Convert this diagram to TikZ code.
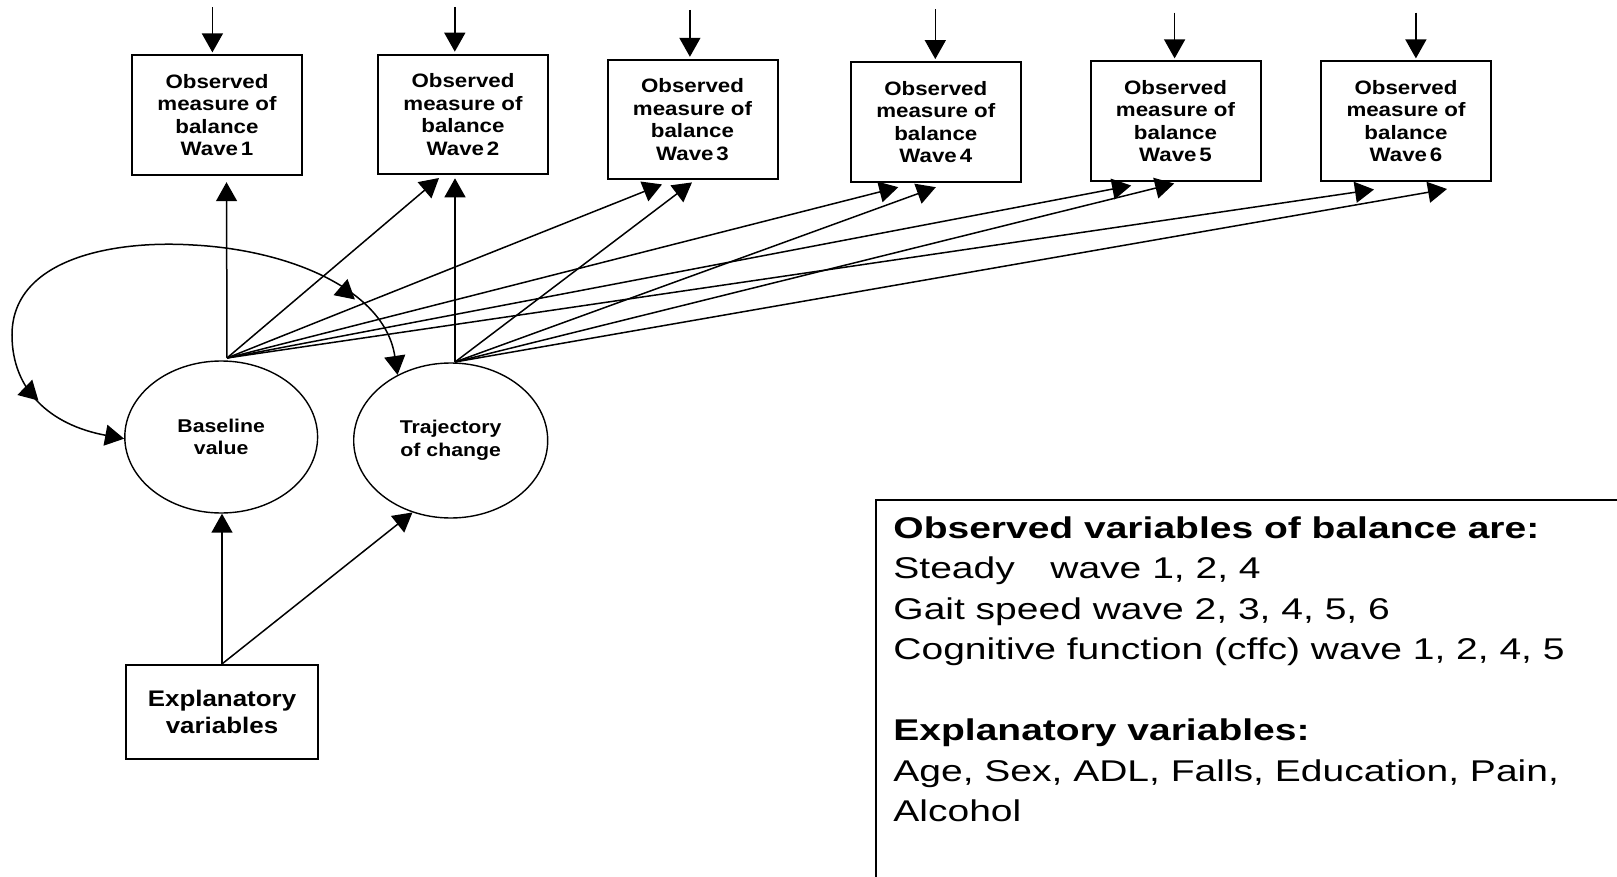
\documentclass[tikz,border=0pt]{standalone}
\usepackage{fontspec}
\setmainfont{Liberation Sans}
\newfontfamily\diagfont{Liberation Sans}[FakeStretch=1.15]
\newfontfamily\legendfont{Liberation Sans}[FakeStretch=1.3]
\usetikzlibrary{arrows.meta,shapes.geometric,decorations.markings,calc}

\newcommand\obsfont{\diagfont\bfseries\fontsize{9.7}{11.25}\selectfont}
\newcommand\latfont{\diagfont\bfseries\fontsize{9.25}{11.35}\selectfont}
\newcommand\expfont{\diagfont\bfseries\fontsize{11.27}{13.5}\selectfont}
\newcommand\legfont{\legendfont\fontsize{15}{20.25}\selectfont}

\begin{document}
\begin{tikzpicture}[x=0.5pt,y=-0.5pt,
  tip/.tip={Triangle[length=9.5pt,width=10.5pt]},
  arr/.style={-tip, line width=0.75pt},
  obs/.style={draw, line width=1pt, minimum width=85pt, minimum height=59.8pt,
    inner sep=0pt, align=center, font=\obsfont},
  latent/.style={draw, ellipse, line width=0.7pt, inner sep=0pt, align=center,
    font=\latfont},
  expl/.style={draw, line width=0.85pt, minimum width=96.2pt, minimum height=47.2pt,
    inner sep=0pt, align=center, font=\expfont}]
\useasboundingbox (0,0) rectangle (1617,877);

% observed measures, one per wave
\node[obs] (b1) at (217,115.2)  {Observed\\measure of\\balance\\Wave\hspace{0.15em}1};
\node[obs] (b2) at (463,114.5)  {Observed\\measure of\\balance\\Wave\hspace{0.15em}2};
\node[obs] (b3) at (692.5,119.6){Observed\\measure of\\balance\\Wave\hspace{0.15em}3};
\node[obs] (b4) at (935.8,121.9){Observed\\measure of\\balance\\Wave\hspace{0.15em}4};
\node[obs] (b5) at (1175.5,121.2){Observed\\measure of\\balance\\Wave\hspace{0.15em}5};
\node[obs] (b6) at (1406,121.2) {Observed\\measure of\\balance\\Wave\hspace{0.15em}6};

% latent growth factors
\node[latent, minimum width=96.4pt, minimum height=76pt] (base) at (221.2,437) {Baseline\\value};
\node[latent, minimum width=97pt, minimum height=77.5pt] (traj) at (450.7,440.5) {Trajectory\\of change};

% covariates
\node[expl] (ex) at (222,712) {Explanatory\\variables};

% error terms above each observed measure
\coordinate (e1) at (212.4,7.3);
\coordinate (e2) at (454.8,6.8);
\coordinate (e3) at (689.9,10);
\coordinate (e4) at (935.3,9.5);
\coordinate (e5) at (1174.6,12.7);
\coordinate (e6) at (1415.9,12.7);
\foreach \i in {1,...,6}
  \draw[arr, shorten >=1pt] (e\i) -- (e\i |- b\i.north);

% loading origins on the latent factors
\coordinate (bo) at (227,358);
\coordinate (to) at (455,362);

% loading targets under each box
\coordinate (i1) at ($(b1.south)+(9.5,6.2)$);
\coordinate (i2) at ($(b2.south)+(-24,2.7)$);
\coordinate (i3) at ($(b3.south)+(-30.5,4)$);
\coordinate (i4) at ($(b4.south)+(-37.5,4.5)$);
\coordinate (i5) at ($(b5.south)+(-44.3,3.5)$);
\coordinate (i6) at ($(b6.south)+(-32,7.5)$);
\coordinate (s2) at ($(b2.south)+(-8,3)$);
\coordinate (s3) at ($(b3.south)+(-0.5,2)$);
\coordinate (s4) at ($(b4.south)+(0,4.5)$);
\coordinate (s5) at ($(b5.south)+(-1.3,1.5)$);
\coordinate (s6) at ($(b6.south)+(41,7)$);

\foreach \i in {1,...,6}
  \draw[arr] (bo) -- (i\i);
\foreach \i in {2,...,6}
  \draw[arr] (to) -- (s\i);

% covariance between the growth factors
\draw[line width=0.75pt, tip-tip,
  postaction={decorate, decoration={markings,
    mark=at position 0.145 with {\arrowreversed{tip}},
    mark=at position 0.865 with {\arrow{tip}}}}]
  (base.181) .. controls (50,425) and (12,390) .. (12,335)
  .. controls (12,258) and (115,240) .. (193,245)
  .. controls (290,250) and (385,290) .. (traj.129);

% covariates predict both factors
\draw[arr] (ex.north) -- (ex.north |- base.south);
\draw[arr] (ex.north) -- (traj.242);

% legend panel
\draw[line width=0.85pt] (1617,500) -- (876,500) -- (876,877);
\node[anchor=base west, inner sep=0pt, font=\legfont] (legend) at (893,538)
  {\parbox[t]{360pt}{\raggedright
   \textbf{Observed variables of balance are:}\\
   \makebox[78.5pt][l]{Steady}wave 1, 2, 4\\
   Gait speed wave 2, 3, 4, 5, 6\\
   Cognitive function (cffc) wave 1, 2, 4, 5\\[20.25pt]
   \textbf{Explanatory variables:}\\
   Age, Sex, ADL, Falls, Education, Pain,\\
   Alcohol}};
\end{tikzpicture}
\end{document}
